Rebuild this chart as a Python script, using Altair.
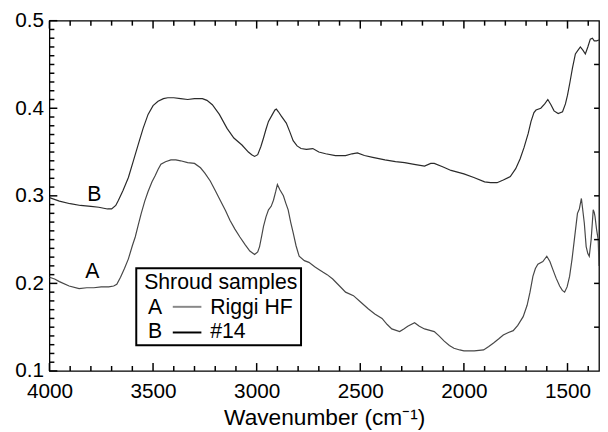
import altair as alt
import pandas as pd

# ---------------- data ----------------
wnB = [4000, 3952, 3900, 3850, 3800, 3762, 3720, 3700, 3680, 3667, 3645, 3619, 3595, 3571, 3548,
       3524, 3500, 3476, 3450, 3429, 3400, 3367, 3333, 3300, 3262, 3240, 3214, 3180, 3143, 3110,
       3071, 3040, 3024, 3010, 2995, 2980, 2967, 2955, 2943, 2924, 2912, 2905, 2895, 2881, 2857,
       2840, 2824, 2805, 2786, 2760, 2729, 2700, 2667, 2620, 2571, 2540, 2514, 2480, 2440, 2381,
       2330, 2286, 2240, 2190, 2160, 2143, 2100, 2062, 2000, 1952, 1900, 1871, 1840, 1810, 1776,
       1750, 1729, 1710, 1690, 1676, 1662, 1652, 1629, 1610, 1595, 1580, 1565, 1545, 1524, 1510,
       1500, 1488, 1476, 1462, 1450, 1438, 1425, 1414, 1402, 1390, 1380, 1371, 1360, 1348]
absB = [0.298, 0.294, 0.291, 0.289, 0.288, 0.287, 0.285, 0.285, 0.289, 0.295, 0.306, 0.321, 0.340, 0.359, 0.377,
        0.393, 0.403, 0.408, 0.411, 0.412, 0.412, 0.411, 0.410, 0.411, 0.411, 0.409, 0.404, 0.393, 0.377, 0.366,
        0.358, 0.350, 0.347, 0.345, 0.347, 0.356, 0.366, 0.376, 0.385, 0.393, 0.398, 0.399, 0.396, 0.391, 0.383,
        0.373, 0.363, 0.357, 0.354, 0.353, 0.354, 0.350, 0.348, 0.346, 0.346, 0.348, 0.349, 0.346, 0.344, 0.341,
        0.339, 0.338, 0.336, 0.334, 0.337, 0.337, 0.333, 0.329, 0.325, 0.321, 0.316, 0.315, 0.315, 0.318, 0.322,
        0.331, 0.342, 0.355, 0.371, 0.385, 0.395, 0.398, 0.400, 0.405, 0.410, 0.404, 0.397, 0.394, 0.396, 0.405,
        0.415, 0.430, 0.446, 0.462, 0.466, 0.470, 0.466, 0.462, 0.470, 0.479, 0.480, 0.477, 0.477, 0.478]

wnA = [4000, 3975, 3952, 3905, 3857, 3820, 3786, 3750, 3714, 3690, 3675, 3657, 3638, 3619, 3600,
       3586, 3571, 3557, 3540, 3524, 3505, 3490, 3476, 3462, 3440, 3414, 3390, 3367, 3333, 3300,
       3271, 3250, 3224, 3200, 3176, 3150, 3129, 3105, 3081, 3055, 3033, 3010, 2995, 2986, 2975,
       2967, 2955, 2943, 2930, 2919, 2908, 2900, 2888, 2871, 2860, 2848, 2836, 2824, 2810, 2795,
       2770, 2748, 2720, 2700, 2681, 2660, 2633, 2600, 2571, 2533, 2500, 2462, 2430, 2395, 2370,
       2348, 2310, 2290, 2271, 2238, 2215, 2190, 2143, 2120, 2095, 2070, 2048, 2020, 2000, 1950,
       1905, 1880, 1857, 1830, 1810, 1785, 1762, 1740, 1714, 1695, 1681, 1667, 1655, 1643, 1619,
       1600, 1585, 1571, 1555, 1538, 1525, 1514, 1502, 1490, 1478, 1467, 1458, 1452, 1443, 1433,
       1426, 1419, 1410, 1402, 1395, 1386, 1380, 1376, 1371, 1367, 1360, 1352, 1348]
absA = [0.207, 0.205, 0.202, 0.197, 0.194, 0.195, 0.195, 0.196, 0.196, 0.197, 0.199, 0.207, 0.217, 0.228, 0.243,
        0.253, 0.267, 0.280, 0.294, 0.305, 0.316, 0.323, 0.330, 0.336, 0.339, 0.341, 0.341, 0.340, 0.338, 0.337,
        0.332, 0.326, 0.317, 0.306, 0.295, 0.283, 0.272, 0.262, 0.253, 0.244, 0.237, 0.233, 0.236, 0.242, 0.255,
        0.265, 0.276, 0.284, 0.288, 0.295, 0.305, 0.313, 0.307, 0.300, 0.292, 0.284, 0.270, 0.258, 0.243, 0.231,
        0.226, 0.224, 0.219, 0.216, 0.213, 0.210, 0.205, 0.197, 0.190, 0.186, 0.179, 0.171, 0.165, 0.160, 0.153,
        0.148, 0.145, 0.148, 0.151, 0.155, 0.151, 0.148, 0.145, 0.140, 0.134, 0.129, 0.126, 0.124, 0.123, 0.123,
        0.124, 0.128, 0.132, 0.137, 0.141, 0.144, 0.146, 0.152, 0.162, 0.175, 0.190, 0.208, 0.217, 0.222, 0.225,
        0.231, 0.225, 0.216, 0.206, 0.197, 0.192, 0.190, 0.196, 0.208, 0.228, 0.250, 0.268, 0.280, 0.285, 0.297,
        0.283, 0.269, 0.242, 0.234, 0.231, 0.250, 0.270, 0.284, 0.281, 0.276, 0.262, 0.250, 0.220]

x_labels = [4000, 3500, 3000, 2500, 2000, 1500]
x_minor = [v for v in range(1400, 4000, 100) if v % 500 != 0]
y_labels = [0.1, 0.2, 0.3, 0.4, 0.5]
y_minor = [round(0.1 + 0.01 * i, 2) for i in range(41) if i % 10 != 0]
y_right = [0.15, 0.2, 0.25, 0.3, 0.35, 0.4, 0.45]

curve_labels = ["B", "A"]
curve_label_wn = [3783, 3793]
curve_label_abs = [0.301, 0.213]

legend_title = "Shroud samples"
legend_keys = ["A", "B"]
legend_names = ["Riggi HF", "#14"]

# ---------------- chart ----------------
W, H = 557, 355
FONT = "Liberation Sans"

xs = alt.Scale(domain=[1348, 4000], reverse=True, nice=False, zero=False)
ys = alt.Scale(domain=[0.1, 0.5], nice=False, zero=False)

xaxis = alt.Axis(values=x_labels, title="Wavenumber (cm⁻¹)", ticks=False, domain=False, grid=False,
                 labelFontSize=21, labelFont=FONT, labelColor="black", labelPadding=10,
                 labelFlush=False, labelOverlap=False,
                 titleFontSize=23, titleFont=FONT, titleFontWeight="normal", titleColor="black",
                 titlePadding=5, format="d")
yaxis = alt.Axis(values=y_labels, title=None, ticks=False, domain=False, grid=False, format=".1f",
                 labelFontSize=21, labelFont=FONT, labelColor="black", labelPadding=6,
                 labelFlush=False, labelOverlap=False)

df = pd.DataFrame({
    "wn": wnA + wnB,
    "abs": absA + absB,
    "sample": ["A"] * len(wnA) + ["B"] * len(wnB),
})

lines = alt.Chart(df).mark_line(strokeWidth=1.2, clip=True).encode(
    x=alt.X("wn:Q", scale=xs, axis=xaxis),
    y=alt.Y("abs:Q", scale=ys, axis=yaxis),
    color=alt.Color("sample:N", scale=alt.Scale(domain=["A", "B"], range=["#474747", "#2a2a2a"]), legend=None),
    detail="sample:N",
)

TICK_W = 1.5


def xtick_layer(vals, length, top):
    d = pd.DataFrame({"wn": vals})
    if top:
        yy, yy2 = alt.value(0), alt.value(length)
    else:
        yy, yy2 = alt.value(H), alt.value(H - length)
    return alt.Chart(d).mark_rule(color="black", strokeWidth=TICK_W).encode(
        x=alt.X("wn:Q", scale=xs, axis=xaxis), y=yy, y2=yy2)


def ytick_layer(vals, length, right):
    d = pd.DataFrame({"abs": vals})
    if right:
        xx, xx2 = alt.value(W), alt.value(W - length)
    else:
        xx, xx2 = alt.value(0), alt.value(length)
    return alt.Chart(d).mark_rule(color="black", strokeWidth=TICK_W).encode(
        y=alt.Y("abs:Q", scale=ys, axis=yaxis), x=xx, x2=xx2)


ticks = [
    xtick_layer(x_labels, 8, False), xtick_layer(x_minor, 5, False),
    xtick_layer(x_labels, 8, True), xtick_layer(x_minor, 5, True),
    ytick_layer(y_labels, 8, False), ytick_layer(y_minor, 5, False),
    ytick_layer(y_right, 5, True),
]

one = pd.DataFrame({"k": [0]})
legend_box = alt.Chart(one).mark_rect(fill="white", stroke="black", strokeWidth=2).encode(
    x=alt.value(88), x2=alt.value(255), y=alt.value(251), y2=alt.value(329))


def txt(s, x, y, align="left"):
    return alt.Chart(one).mark_text(font=FONT, fontSize=21.5, color="black", align=align,
                                    baseline="alphabetic").encode(
        x=alt.value(x), y=alt.value(y), text=alt.value(s))


legend_parts = [
    legend_box,
    txt(legend_title, 96, 272),
    txt(legend_keys[0], 100, 297),
    txt(legend_names[0], 163, 297),
    txt(legend_keys[1], 100, 322),
    txt(legend_names[1], 163, 322),
    alt.Chart(one).mark_rule(color="#888888", strokeWidth=2).encode(
        x=alt.value(125), x2=alt.value(154), y=alt.value(290)),
    alt.Chart(one).mark_rule(color="black", strokeWidth=2).encode(
        x=alt.value(125), x2=alt.value(154), y=alt.value(316)),
]

lab_df = pd.DataFrame({"wn": curve_label_wn, "abs": curve_label_abs, "t": curve_labels})
labels = alt.Chart(lab_df).mark_text(font=FONT, fontSize=21.5, color="black", align="center",
                                     baseline="middle").encode(
    x=alt.X("wn:Q", scale=xs, axis=xaxis), y=alt.Y("abs:Q", scale=ys, axis=yaxis), text="t:N")

chart = alt.layer(lines, *legend_parts, labels, *ticks).properties(
    width=W, height=H,
    autosize=alt.AutoSizeParams(type="none"),
    padding={"left": 42, "top": 10, "right": 1, "bottom": 59},
).configure(
    font=FONT, background="white",
    view=alt.ViewConfig(stroke="black", strokeWidth=1.3),
)

chart.save("out.html", embed_options={"renderer": "svg", "actions": False})
